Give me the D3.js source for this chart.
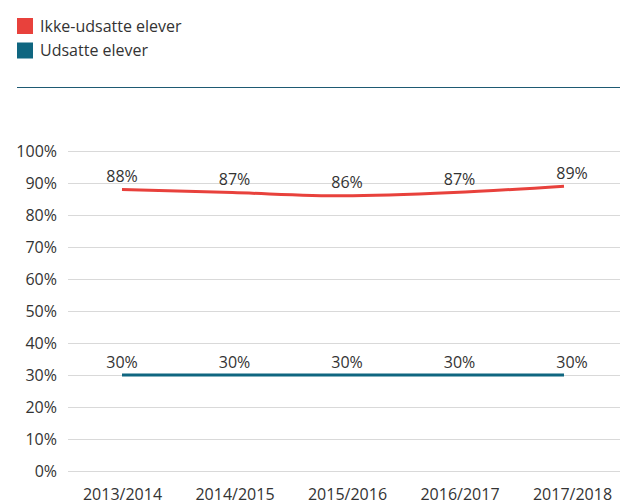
<!DOCTYPE html>
<html>
<head>
<meta charset="utf-8">
<script src="https://cdn.jsdelivr.net/npm/d3@7"></script>
<style>
  body { margin: 0; background: #fff; }
  svg { display: block; font-family: "Open Sans", sans-serif; }
</style>
</head>
<body>
<svg id="chart" width="620" height="502"></svg>
<script>
const years = ["2013/2014", "2014/2015", "2015/2016", "2016/2017", "2017/2018"];
const ikkeUdsatte = [88, 87, 86, 87, 89];
const udsatte = [30, 30, 30, 30, 30];
const seriesNames = ["Ikke-udsatte elever", "Udsatte elever"];
const seriesColors = ["#e8413c", "#0f6680"];
const yTicks = [0, 10, 20, 30, 40, 50, 60, 70, 80, 90, 100];

const svg = d3.select("#chart");

// legend
const legend = svg.append("g");
seriesNames.forEach((name, i) => {
  legend.append("rect")
    .attr("x", 17).attr("y", 18 + i * 24.5)
    .attr("width", 16).attr("height", 16)
    .attr("fill", seriesColors[i]);
  legend.append("text")
    .attr("x", 40).attr("y", 31.5 + i * 24.5)
    .attr("font-size", 16).attr("fill", "#333")
    .text(name);
});
svg.append("line")
  .attr("x1", 17).attr("x2", 620).attr("y1", 87.5).attr("y2", 87.5)
  .attr("stroke", "#1e5a73").attr("stroke-width", 1);

// scales
const y = d3.scaleLinear().domain([0, 100]).range([471, 151]);
const xBand = d3.scalePoint().domain(years).range([122, 572]);
const xLine = d3.scalePoint().domain(years).range([122, 564]);

// grid + y labels
const yAxis = svg.append("g")
  .attr("transform", "translate(68,0)")
  .call(d3.axisLeft(y).tickValues(yTicks).tickSize(-552).tickFormat(d => d + "%"));
yAxis.select(".domain").remove();
yAxis.selectAll(".tick line").attr("stroke", "#d9d9d9").attr("stroke-width", 1);
yAxis.selectAll(".tick text")
  .attr("x", -11).attr("font-size", 16).attr("fill", "#333")
  .attr("font-family", "Open Sans, sans-serif");

// x labels
const xAxis = svg.append("g")
  .attr("transform", "translate(0,500)")
  .call(d3.axisBottom(xBand).tickSize(0));
xAxis.select(".domain").remove();
xAxis.selectAll(".tick text")
  .attr("y", 0).attr("dy", 0)
  .attr("font-size", 16).attr("fill", "#333")
  .attr("font-family", "Open Sans, sans-serif");

// lines
const data = [ikkeUdsatte, udsatte];
const line = d3.line()
  .x((d, i) => xLine(years[i]))
  .y(d => y(d))
  .curve(d3.curveMonotoneX);

data.forEach((vals, s) => {
  svg.append("path")
    .datum(vals)
    .attr("d", line)
    .attr("fill", "none")
    .attr("stroke", seriesColors[s])
    .attr("stroke-width", 3);
  svg.append("g").selectAll("text")
    .data(vals)
    .join("text")
    .attr("x", (d, i) => xBand(years[i]))
    .attr("y", d => y(d) - 7.5)
    .attr("text-anchor", "middle")
    .attr("font-size", 16)
    .attr("fill", "#333")
    .text(d => d + "%");
});
</script>
</body>
</html>
